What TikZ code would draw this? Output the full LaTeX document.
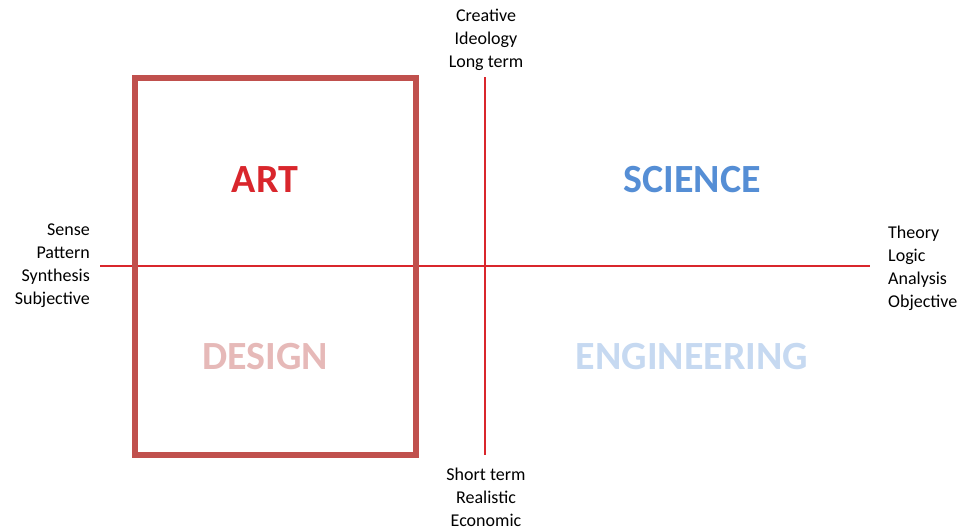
\documentclass[tikz,border=0pt]{standalone}
\usepackage{fontspec}
\setmainfont{Carlito}
\usepackage{xcolor}

\definecolor{axisred}{HTML}{D9262C}
\definecolor{boxred}{HTML}{C0504D}
\definecolor{artred}{HTML}{D9262C}
\definecolor{designpink}{HTML}{E6B9B8}
\definecolor{sciblue}{HTML}{558ED5}
\definecolor{engblue}{HTML}{C6D9F1}

\tikzset{
  axis/.style={draw=axisred, line width=2.2pt},
  pole/.style={inner sep=0pt, font=\fontsize{18}{23}\selectfont},
  field/.style={inner sep=0pt, font=\fontsize{40}{48}\selectfont\bfseries}
}

\begin{document}
\begin{tikzpicture}[x=1pt, y=-1pt]
    \useasboundingbox (0,0) rectangle (967,531);

    % axis ends
    \coordinate (w) at (100,266);
    \coordinate (e) at (870,266);
    \coordinate (n) at (485,77);
    \coordinate (s) at (485,455);

    \draw[axis] (w) -- (e);
    \draw[axis] (n) -- (s);

    \draw[boxred, line width=6pt] (135,78) rectangle (416,455);

    % poles of the two axes
    \node (top) at (486,40) [pole, align=center] {Creative\\Ideology\\Long term};
    \node (bottom) at (486,497) [pole, align=center] {Short term\\Realistic\\Economic};
    \node (left) at (90,266) [pole, align=right, anchor=east] {Sense\\Pattern\\Synthesis\\Subjective};
    \node (right) at (888,268) [pole, align=left, anchor=west] {Theory\\Logic\\Analysis\\Objective};

    % quadrants
    \foreach \k/\i/\j/\c/\t in {art/265/180/artred/ART, science/692/180/sciblue/SCIENCE,
                                design/265/357/designpink/DESIGN, engineering/692/357/engblue/ENGINEERING} {
        \node (\k) at (\i, \j) [field, text=\c] {\t};
    }
\end{tikzpicture}
\end{document}
